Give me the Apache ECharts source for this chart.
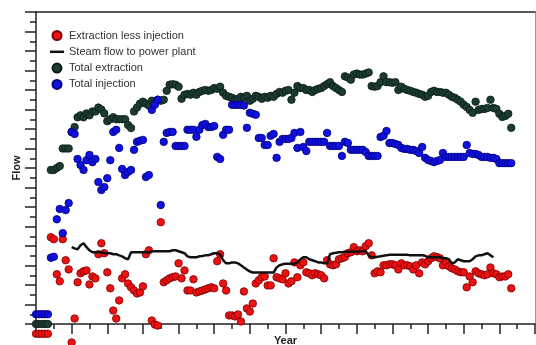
<!DOCTYPE html>
<html>
<head>
<meta charset="utf-8">
<script src="https://cdn.jsdelivr.net/npm/echarts@6/dist/echarts.min.js"></script>
<style>
  html, body { margin: 0; padding: 0; background: #fff; }
  #chart { width: 536px; height: 345px; }
</style>
</head>
<body>
<div id="chart"></div>
<script>
// monthly values, index = month since start (x axis runs 0..168 months)
const lessInjection = [
  -5, -5, -5, -5, -5,
  44.5, 43.5, 25.5, 21.9, 43.5, 32.7, 28,
  -9.5, 2.8, 21.4, 26, 27, 27.5, 20.3, 24.4, 23.4, 35.8,
  41.4, 36.3, 26.5, 18.3, 6.9, 2.8, 12.1, 23.4, 25.5, 20.8,
  18.8, 17.2, 15.7, 16.2, 19.3, 35.8, 37.8, 1.8, -0.3, -0.8,
  52.2, 21.4, 22.4, 23.4, 24, 24.4, 31.1, 23.4, 27.5, 17.2,
  17.2, 22.9, 16.2, 16.7, 17.2, 17.7, 18.3, 18.8, 18.3, 32.2,
  35.8, 20.8, 17.2, 4.4, 4.4, 3.9, 4.9, 1.3, 16.7, 8,
  6.4, 10.5, 20.8, 22.4, 24, 24.4, 19.8, 19.8, 33.7, 24,
  23.4, 22.9, 26, 20.8, 21.9, 31.6, 24, 30.1, 31.6, 26.5,
  26, 25, 26, 25.5, 25, 23.4, 32.7, 30.6, 30.1, 30.6,
  33.2, 33.7, 34.3, 36.3, 36.8, 39.4, 37.3, 37.8, 37.3, 39.9,
  41.4, 35.2, 26, 27, 26.5, 30.1, 30.1, 30.6, 30.6, 30.1,
  28, 31.1, 30.1, 30.1, 29.6, 28, 30.1, 26, 31.6, 30.6,
  32.2, 33.7, 34.7, 34.3, 33.7, 30.1, 31.6, 29.6, 28.6, 28,
  27, 26.5, 26.5, 18.8, 24.4, 21.4, 27, 26, 25.5, 25,
  25.5, 29, 26, 25.5, 24, 24.4, 24.4, 25.5, 18.3
];

const steamFlow = [
  null, null, null, null, null, null, null, null, null, null, null, null,
  39.4, 38.8, 38.3, 40.4, 41.4, 39.4, 37.8, 36.8, 36.8, 36.8,
  36.8, 36.3, 36.3, 36.3, 35.8, 35.8, 35.2, 34.7, 33.7, 33.2,
  36.8, 36.8, 36.8, 36.8, 36.8, 36.8, 36.8, 37.3, 37.3, 37.3,
  37.3, 37.3, 37.3, 37.3, 37.8, 37.8, 37.3, 36.8, 36.3, 34.7,
  34.2, 34.2, 34.2, 34.7, 34.9, 35.2, 35.2, 35.8, 36.3, 36.3,
  35.8, 32.7, 31.1, 31.1, 31.6, 31.6, 31.1, 30.1, 29, 27.9,
  26.9, 26.4, 26.4, 26.4, 26.4, 26.4, 26.4, 26.4, 26.4, 29,
  30.1, 30.6, 30.9, 30.9, 30.9, 30.9, 31.6, 33.2, 34.2, 34.2,
  33.2, 32.7, 32.2, 31.6, 31.6, 31.1, 31.1, 35.8, 36.3, 36.5,
  36.8, 36.8, 37, 37, 37, 37, 37, 37.3, 37.3, 37.3,
  35.2, 34.2, 34.2, 34.5, 34.7, 35, 35.2, 35.5, 35.5, 35.5,
  35.5, 35.5, 35.5, 35.5, 35.2, 35.2, 35.2, 35.2, 35.2, 35,
  34.2, 34.2, 34.2, 34.2, 34.2, 33.7, 33.7, 33.2, 31.1, 31.6,
  33.2, 32.7, 32.2, 32.2, 32.2, 33.2, 34.7, 35.2, 35.2, 35.8,
  36.3, 35.2, 34.2
];

const totalExtraction = [
  0, 0, 0, 0, 0,
  79, 79, 80, 81, 90, 90, 90,
  98.5, 101, 106, 107, 106, 108, 107, 109, 109, 111,
  110, 108, 104, 105, 106, 105, 105, 105, 105, 102,
  100.5, 109, 111, 113, 114, 113, 112, 114.5, 113.5, 115,
  114.5, 115, 119.6, 122.7, 123, 122.7, 121.7, 115.5, 117.6, 118,
  117.6, 118.6, 117.6, 119, 119.6, 120, 119.6, 120, 121, 120.6,
  121.7, 118.6, 117, 116.5, 116, 115, 115.5, 116.5, 116, 117,
  114.5, 115.5, 117, 116.5, 115.5, 116.5, 116, 117, 116.5, 118,
  119, 118.6, 119.6, 120, 115, 118.6, 122, 121, 121, 120,
  120, 119, 120, 120.6, 121, 122, 123, 124, 122, 121,
  120, 119, 127, 126.4, 125.3, 127.9, 128.4, 127.9, 127.9, 128.4,
  129, 122, 121.7, 122, 124, 127, 124, 124, 123.7, 124,
  120, 121.7, 120.6, 120, 119.6, 119, 118.6, 118, 117.6, 116.5,
  117, 119, 119.6, 119, 119, 118.6, 118.6, 117.6, 116.5, 116,
  115, 114, 112.4, 111.3, 109.8, 108.3, 114, 109.8, 110.3, 110.3,
  110.8, 115, 110.8, 110.3, 107.8, 106.2, 106.7, 107.8, 100.6
];

const totalInjection = [
  5, 5, 5, 5, 5,
  34, 34.5, 53.7, 59, 46.6, 58.4, 62,
  98.5, 97.5, 84.6, 81.5, 79, 84, 86.7, 83, 84.6, 72.8,
  68.7, 70.2, 74.8, 84, 98.5, 99.6, 90.3, 79.5, 76.4, 78,
  79, 89.3, 93.4, 94, 94.4, 75.4, 76.4, 109.8, 112.4, 115,
  61, 93.4, 98, 98.5, 98.5, 91.3, 91.3, 91.3, 91.3, 99.6,
  99.6, 99.6, 96, 99.6, 102, 102.6, 101, 101, 101.5, 85.7,
  84.6, 97, 99.6, 99.6, 112.4, 112.4, 112.4, 112.4, 112, 100.6,
  108.3, 107.8, 107.3, 95.4, 95.4, 91.8, 91.8, 96.5, 97.5, 85.2,
  93.4, 94.9, 94.9, 94.9, 95.4, 98, 90.3, 98.5, 90.8, 88.7,
  93.4, 93.4, 93.4, 93.4, 93.4, 93.4, 98, 91.3, 91.3, 91.3,
  91.3, 86.2, 93.4, 92.8, 89.3, 89.3, 89.3, 89.3, 89.3, 88.2,
  86.2, 86.2, 86.2, 86.2, 95.9, 96.5, 99, 92.8, 92.8, 92.3,
  91.8, 90.3, 89.8, 89.8, 89.3, 89.3, 88.7, 87.7, 90.8, 85.2,
  84.1, 83.6, 83, 83.6, 84.1, 87.7, 85.7, 85.7, 85.7, 85.7,
  85.7, 85.7, 85.7, 91.8, 87.7, 87.2, 87.2, 86.7, 85.7, 85.7,
  85.7, 85.2, 85.2, 84.6, 82.5, 82.5, 82.5, 82.5, 82.5
];

const seriesNames = ['Extraction less injection', 'Steam flow to power plant', 'Total extraction', 'Total injection'];

function pairs(vals) {
  return vals.map((v, i) => [i, v]).filter(p => p[1] !== null);
}

const font = 'Liberation Sans, Arial, sans-serif';
const chart = echarts.init(document.getElementById('chart'));

const dots = (color, border) => ({
  type: 'scatter',
  symbol: 'circle',
  symbolSize: 7.5,
  clip: false,
  itemStyle: { color: color, borderColor: border, borderWidth: 0.8, opacity: 1 }
});

chart.setOption({
  animation: false,
  grid: { left: 36, right: 1, top: 12, bottom: 21, outerBoundsMode: 'none' },
  legend: {
    orient: 'vertical',
    left: 50,
    top: 30,
    padding: 0,
    itemWidth: 14,
    itemHeight: 9,
    itemGap: 5.3,
    textStyle: { fontFamily: font, fontSize: 11, color: '#333' },
    data: [
      { name: seriesNames[0], icon: 'circle' },
      { name: seriesNames[1], icon: 'path://M0,0H14V2.5H0Z' },
      { name: seriesNames[2], icon: 'circle' },
      { name: seriesNames[3], icon: 'circle' }
    ]
  },
  xAxis: [{
    type: 'value',
    min: 0, max: 168, interval: 12,
    name: 'Year',
    nameLocation: 'middle',
    nameGap: 11,
    nameTextStyle: { fontFamily: font, fontSize: 11, fontWeight: 'bold', color: '#222' },
    axisLine: { onZero: false, lineStyle: { color: '#222', width: 1.5 } },
    axisTick: { length: 10, lineStyle: { color: '#222', width: 1.5 } },
    minorTick: { show: true, splitNumber: 2, length: 5, lineStyle: { color: '#222', width: 1.5 } },
    axisLabel: { show: false },
    splitLine: { show: false }
  }, {
    type: 'value', position: 'top', min: 0, max: 168,
    axisLine: { show: true, onZero: false, lineStyle: { color: '#222', width: 1.5 } },
    axisTick: { show: false }, axisLabel: { show: false }, splitLine: { show: false }
  }],
  yAxis: [{
    type: 'value',
    min: 0, max: 160, interval: 10,
    name: 'Flow',
    nameLocation: 'middle',
    nameGap: 14,
    nameTextStyle: { fontFamily: font, fontSize: 11, fontWeight: 'bold', color: '#222' },
    axisLine: { show: true, onZero: false, lineStyle: { color: '#222', width: 1.5 } },
    axisTick: { show: true, length: 11, lineStyle: { color: '#222', width: 1.5 } },
    minorTick: { show: true, splitNumber: 2, length: 6, lineStyle: { color: '#222', width: 1.5 } },
    axisLabel: { show: false },
    splitLine: { show: false }
  }, {
    type: 'value', position: 'right', min: 0, max: 160,
    axisLine: { show: true, onZero: false, lineStyle: { color: '#999', width: 1 } },
    axisTick: { show: false }, axisLabel: { show: false }, splitLine: { show: false }
  }],
  series: [
    Object.assign(dots('#ee1111', '#7a0000'), { name: seriesNames[0], data: pairs(lessInjection) }),
    {
      name: seriesNames[1],
      type: 'line',
      data: pairs(steamFlow),
      symbol: 'none',
      lineStyle: { color: '#111', width: 2.5 },
      itemStyle: { color: '#111' }
    },
    Object.assign(dots('#1c3c33', '#0a1c16'), { name: seriesNames[2], data: pairs(totalExtraction) }),
    Object.assign(dots('#1010e0', '#00007a'), { name: seriesNames[3], data: pairs(totalInjection) })
  ]
});
</script>
</body>
</html>
